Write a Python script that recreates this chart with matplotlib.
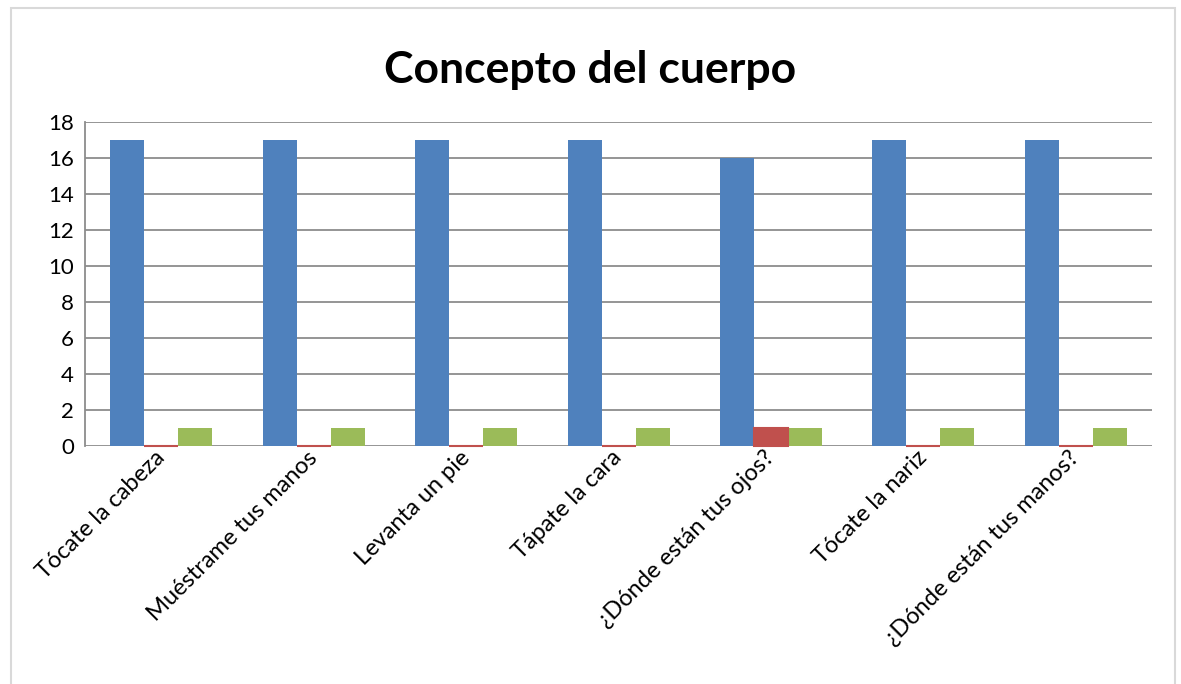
import matplotlib
matplotlib.use("Agg")
import matplotlib.pyplot as plt
import numpy as np
from matplotlib.patches import Rectangle

categories = ["Tócate la cabeza", "Muéstrame tus manos", "Levanta un pie",
              "Tápate la cara", "¿Dónde están tus ojos?", "Tócate la nariz",
              "¿Dónde están tus manos?"]
serie1 = [17, 17, 17, 17, 16, 17, 17]
serie2 = [0, 0, 0, 0, 1, 0, 0]
serie3 = [1, 1, 1, 1, 1, 1, 1]
yticks = [0, 2, 4, 6, 8, 10, 12, 14, 16, 18]

C_BLUE = "#4F81BD"
C_RED = "#C0504D"
C_GREEN = "#9BBB59"
C_GRID = "#8C8C8C"

fig = plt.figure(figsize=(11.81, 6.84), dpi=100)
ax = fig.add_axes([0.072, 0.348, 0.9035, 0.4736])

x = np.arange(len(categories))
w = 0.223
ax.bar(x - w, serie1, w, color=C_BLUE, zorder=3)
ax.bar(x, serie2, w, color=C_RED, edgecolor=C_RED, linewidth=1.5,
       zorder=4, clip_on=False)
ax.bar(x + w, serie3, w, color=C_GREEN, zorder=3)

ax.set_xlim(-0.5, len(categories) - 0.5)
ax.set_ylim(0, 18)
ax.set_yticks(yticks)
ax.set_yticklabels([str(t) for t in yticks], fontsize=16, family="Lato")
ax.yaxis.grid(True, color=C_GRID, linewidth=1.3, zorder=0)
ax.tick_params(axis="y", length=0, pad=8)
ax.tick_params(axis="x", length=0, pad=6)
ax.set_xticks(x)
ax.set_xticklabels(categories, rotation=45, ha="right", va="center",
                   rotation_mode="anchor", fontsize=17, family="Lato")
for s in ["top", "right", "bottom"]:
    ax.spines[s].set_visible(False)
ax.spines["left"].set_color(C_GRID)
ax.spines["left"].set_linewidth(1.3)

fig.text(0.5, 0.898, "Concepto del cuerpo", ha="center", va="center",
         fontsize=32, fontweight="bold", family="Lato")

fig.patches.append(Rectangle((0.009, -0.01), 0.986, 0.998, transform=fig.transFigure,
                             fill=False, edgecolor="#D9D9D9", linewidth=1.5))

fig.savefig("out.png", dpi=100)
